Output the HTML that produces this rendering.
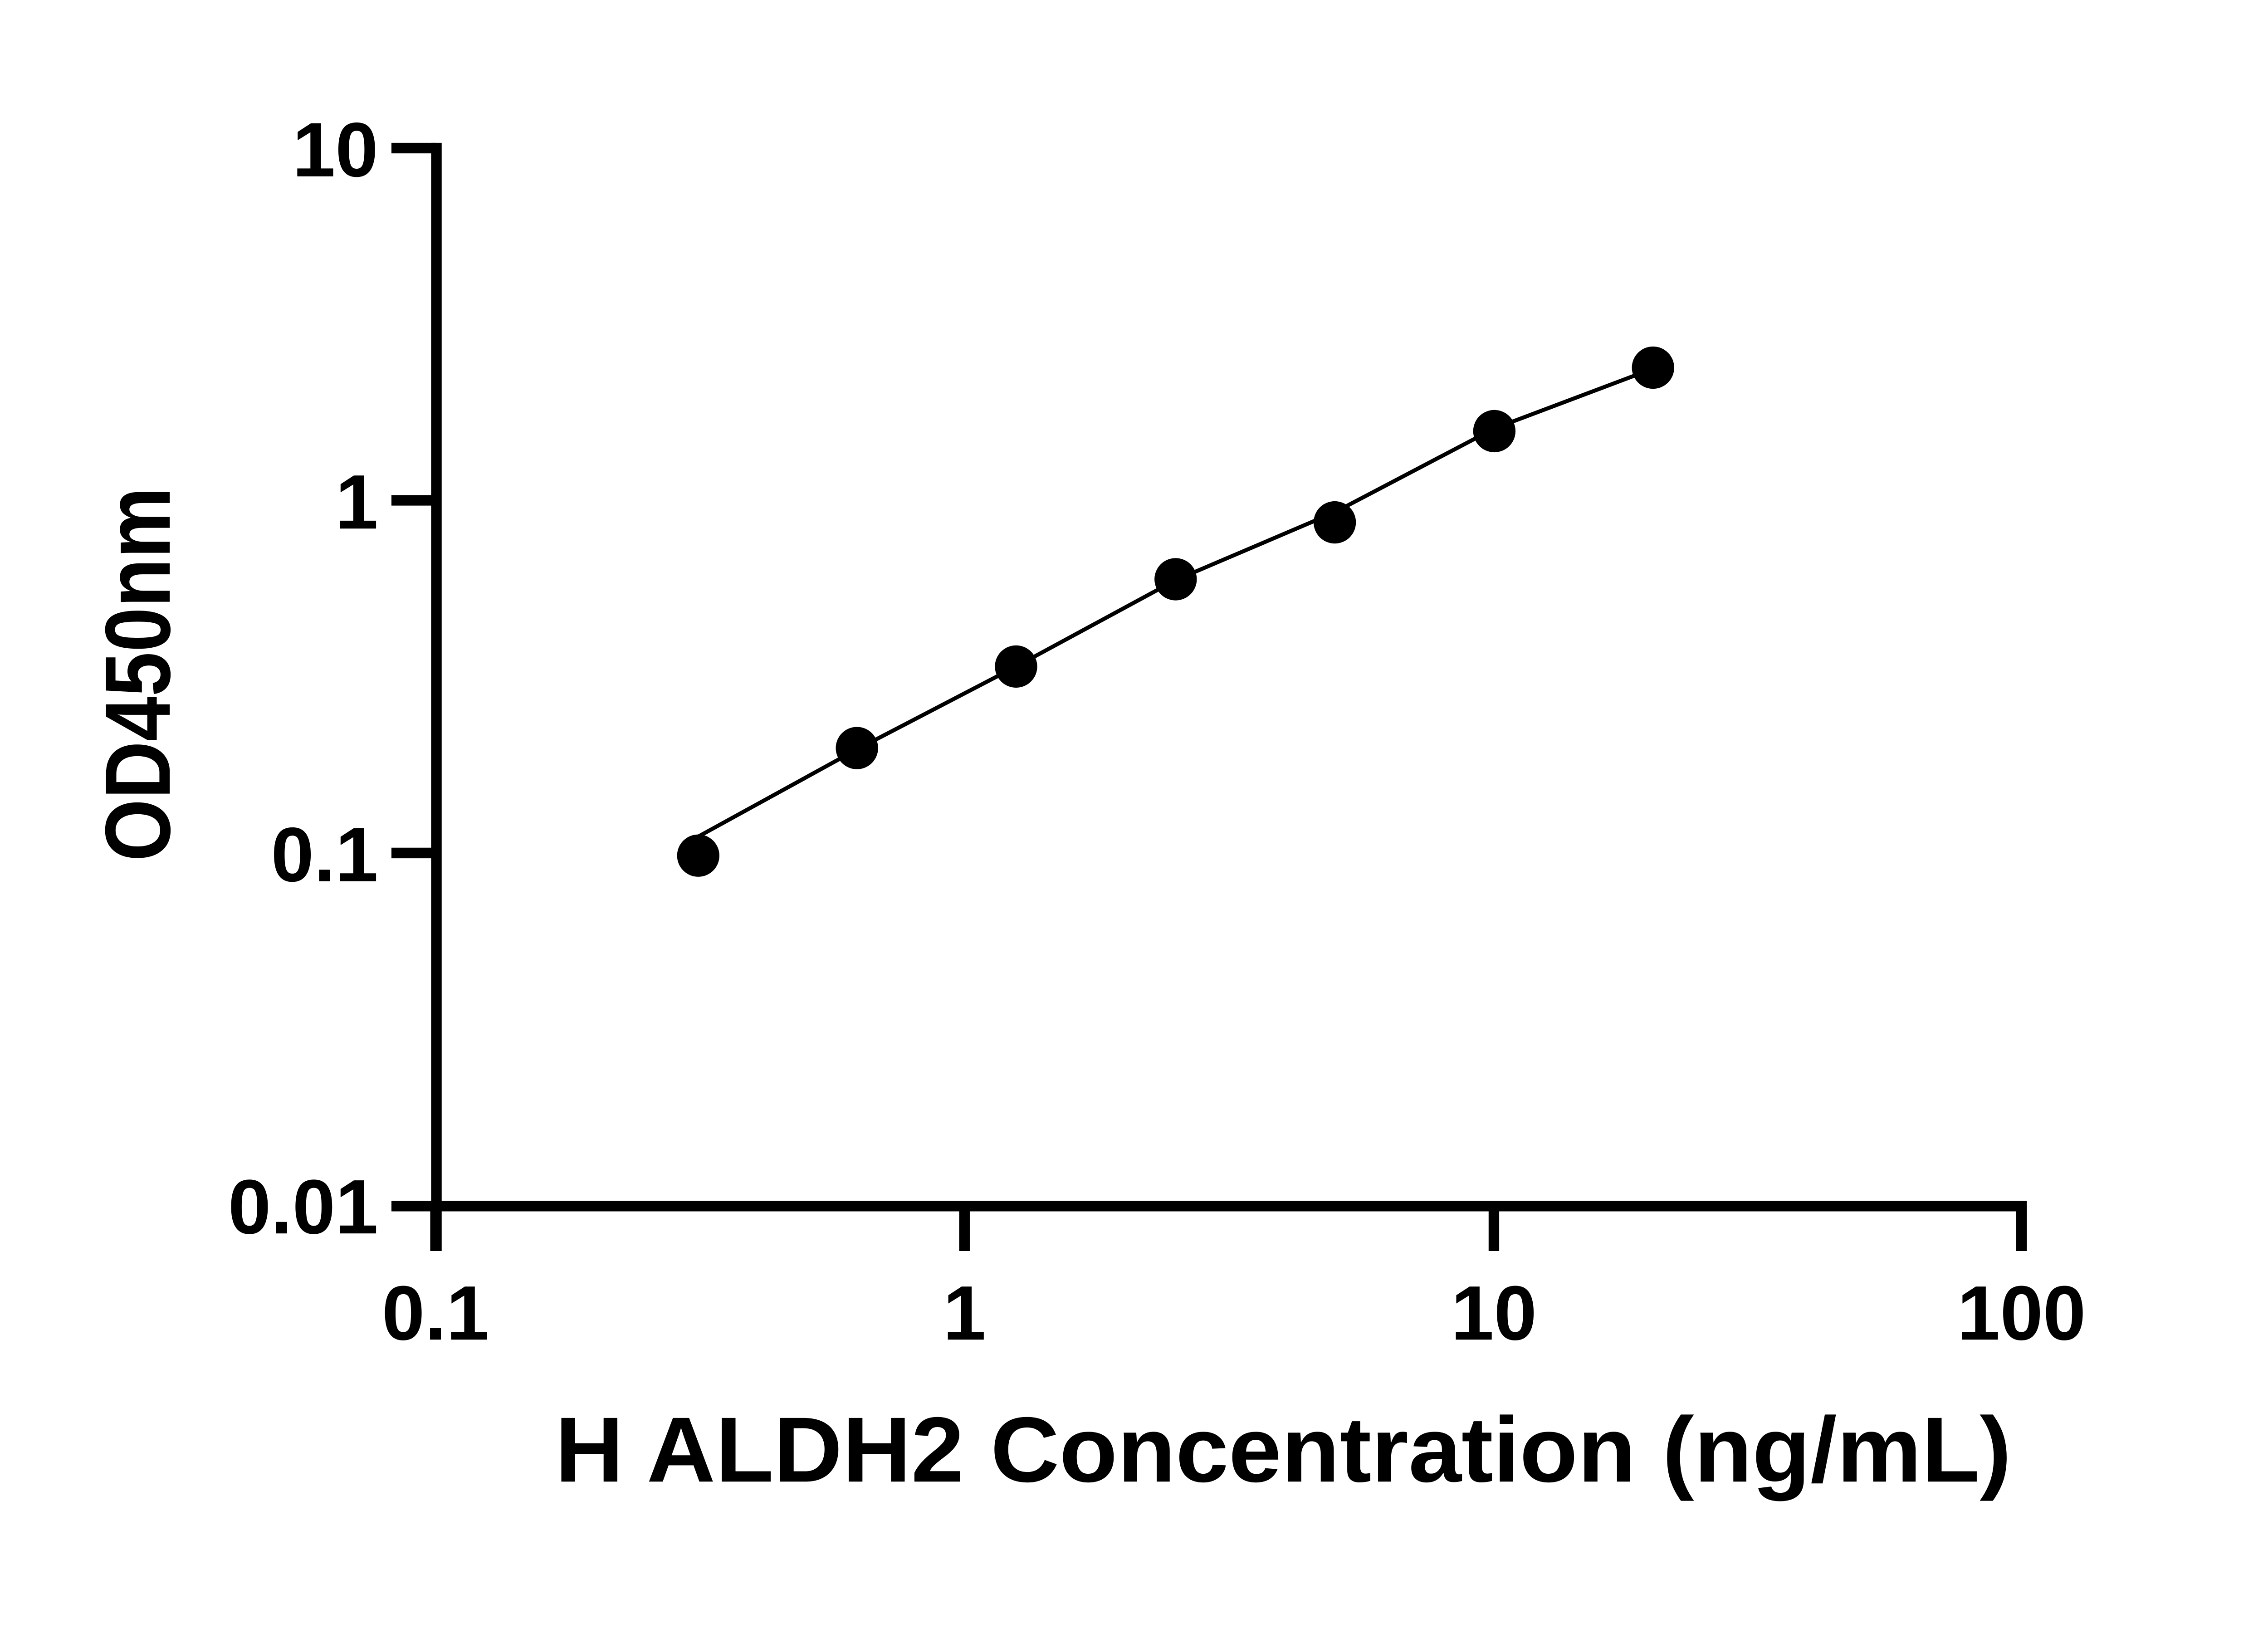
<!DOCTYPE html>
<html><head><meta charset="utf-8"><style>html,body{margin:0;padding:0;background:#fff}svg{display:block}</style></head>
<body>
<svg width="5142" height="3600" viewBox="0 0 5142 3600" xmlns="http://www.w3.org/2000/svg">
<rect width="5142" height="3600" fill="#fff"/>
<g transform="scale(0.9718)">
<g stroke="#000" stroke-width="24" fill="none">
<line x1="990" y1="324" x2="990" y2="2838"/>
<line x1="888" y1="2736" x2="4598" y2="2736"/>
<line x1="888" y1="336" x2="990" y2="336"/>
<line x1="888" y1="1135" x2="990" y2="1135"/>
<line x1="888" y1="1935" x2="990" y2="1935"/>
<line x1="988" y1="2736" x2="988" y2="2838"/>
<line x1="2188" y1="2736" x2="2188" y2="2838"/>
<line x1="3389" y1="2736" x2="3389" y2="2838"/>
<line x1="4586" y1="2736" x2="4586" y2="2838"/>
</g>
<polyline points="1580,1900 1944,1700 2305,1512 2667,1316 3028,1162 3390,972 3740,840" fill="none" stroke="#000" stroke-width="9"/>
<g fill="#000">
<circle cx="1584" cy="1941" r="48"/>
<circle cx="1944" cy="1697" r="48"/>
<circle cx="2305" cy="1512" r="48"/>
<circle cx="2667" cy="1314" r="48"/>
<circle cx="3028" cy="1185" r="48"/>
<circle cx="3390" cy="978" r="48"/>
<circle cx="3750" cy="834" r="48"/>
</g>
<g font-family="Liberation Sans, sans-serif" font-weight="bold" font-size="175" fill="#000">
<text x="858" y="400" text-anchor="end">10</text>
<text x="858" y="1199" text-anchor="end">1</text>
<text x="858" y="1999" text-anchor="end">0.1</text>
<text x="858" y="2798" text-anchor="end">0.01</text>
<text x="988" y="3039" text-anchor="middle">0.1</text>
<text x="2188" y="3039" text-anchor="middle">1</text>
<text x="3389" y="3039" text-anchor="middle">10</text>
<text x="4586" y="3039" text-anchor="middle">100</text>
</g>
<text x="1259" y="3361" font-family="Liberation Sans, sans-serif" font-weight="bold" font-size="210" textLength="3304" lengthAdjust="spacingAndGlyphs">H ALDH2 Concentration (ng/mL)</text>
<text transform="translate(385,1954) rotate(-90)" x="0" y="0" font-family="Liberation Sans, sans-serif" font-weight="bold" font-size="210" textLength="849" lengthAdjust="spacingAndGlyphs">OD450nm</text>
</g>
</svg>
</body></html>
